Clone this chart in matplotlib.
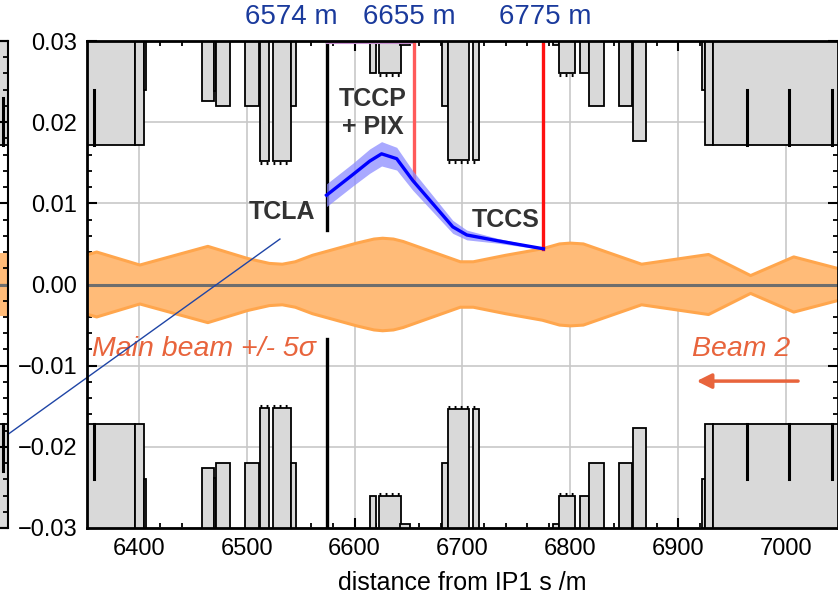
"""Collimation aperture view near IP1, beam 2, with TCLA/TCCP/TCCS markers."""
import numpy as np
import matplotlib
matplotlib.use("Agg")
import matplotlib.pyplot as plt
from matplotlib.patches import Rectangle
from matplotlib.ticker import MultipleLocator, FuncFormatter

plt.rcParams["font.family"] = ["Liberation Sans", "DejaVu Sans"]

# --- data ----------------------------------------------------------------
# beam envelope (+/- 5 sigma), half width vs s
env_s = [6345, 6361, 6401, 6464, 6501, 6521, 6533, 6545, 6561, 6602, 6618,
         6626, 6636, 6645, 6698, 6710, 6740, 6774, 6790, 6800, 6812, 6866,
         6928, 6967, 7007, 7050]
env_hw = [0.0034, 0.0040, 0.0024, 0.0047, 0.0032, 0.0026, 0.0025, 0.0028,
          0.0036, 0.0051, 0.0056, 0.0057, 0.0056, 0.0053, 0.0028, 0.0028,
          0.0036, 0.0044, 0.0050, 0.0051, 0.0050, 0.0025, 0.0037, 0.0011,
          0.0034, 0.0019]

# halo / secondary trajectory between TCCP and TCCS
traj_s = [6574, 6598, 6614, 6625, 6639, 6654, 6691, 6704, 6732, 6775]
traj_y = [0.0110, 0.0135, 0.0152, 0.0161, 0.0155, 0.0128, 0.0071, 0.0061,
          0.0054, 0.0044]
traj_err = [0.0014, 0.0014, 0.0015, 0.0015, 0.0014, 0.0012, 0.0008, 0.0006,
            0.0003, 0.0001]

# aperture elements: start, end, half aperture, comb edge
ap_start = [6340, 6396.3, 6404.6, 6458.2, 6469.9, 6471.4, 6498.3, 6512.2,
            6524.3, 6540.7, 6614.3, 6622.9, 6642.1, 6681.4, 6687.0, 6710.1,
            6783.8, 6789.0, 6808.5, 6817.4, 6844.6, 6858.0, 6922.0, 6925.1,
            6932.2]
ap_end = [6396.3, 6404.6, 6407.1, 6469.9, 6471.4, 6484.4, 6511.3, 6520.6,
          6540.7, 6545.4, 6619.6, 6642.8, 6651.4, 6687.0, 6706.4, 6715.1,
          6789.0, 6804.5, 6817.4, 6830.7, 6857.0, 6869.7, 6925.1, 6932.2,
          7060]
ap_half = [0.0172, 0.0172, 0.0240, 0.0226, 0.0238, 0.0220, 0.0220, 0.0152,
           0.0152, 0.0220, 0.0260, 0.0260, 0.0295, 0.0220, 0.0153, 0.0153,
           0.0295, 0.0260, 0.0260, 0.0220, 0.0220, 0.0177, 0.0240, 0.0172,
           0.0172]
ap_comb = [False, False, False, False, False, False, False, True,
           True, False, False, True, False, False, True, True,
           False, True, False, False, False, False, False, False,
           False]
# short boundary marks inside the wide elements
mark_s = [6358.3, 6963.7, 7002.3, 7042.8]
mark_lo, mark_hi = 0.0172, 0.0240

# collimator positions and jaw reach
tcla_s, tcla_jaw = 6574, 0.0067
tccp_s, tccp_y = 6655, 0.0128
tccs_s, tccs_y = 6775, 0.0044
top_labels = ["6574 m", "6655 m", "6775 m"]
top_label_s = [6541, 6651, 6777]

# pointer line from the neighbouring panel (start, end)
pointer_s = [6271, 6530.8]
pointer_y = [-0.0192, 0.0056]

# neighbouring panel sliver (left edge of figure)
side_ap = 0.0172
side_hw = 0.0039

ORANGE_FILL = "#ffbb78"
ORANGE_EDGE = "#ffa64d"
TEXT_RED = "#e8643c"
GRAY = "#d9d9d9"
LABEL_BLUE = "#1a3a9c"

fig = plt.figure(figsize=(8.38, 5.94), dpi=100)
ax = fig.add_axes([87 / 838, 1 - 528 / 594, 751 / 838, 487 / 594])

# beam envelope
ax.fill_between(env_s, -np.array(env_hw), env_hw, color=ORANGE_FILL,
                lw=0, zorder=1)
ax.plot(env_s, env_hw, color=ORANGE_EDGE, lw=2.2, zorder=1.1)
ax.plot(env_s, -np.array(env_hw), color=ORANGE_EDGE, lw=2.2, zorder=1.1)
ax.axhline(0, color="#6e6e6e", lw=2.2, zorder=1.5)

# aperture blocks, top and bottom
for s0, s1, a, comb in zip(ap_start, ap_end, ap_half, ap_comb):
    for sign in (1, -1):
        y0 = a if sign > 0 else -0.04
        h = 0.04 - a
        ax.add_patch(Rectangle((s0, y0), s1 - s0, h, facecolor=GRAY,
                               edgecolor="black", lw=1.3, zorder=2))
        if comb:
            ax.plot([s0, s1], [sign * (a - 0.00025)] * 2, color="black",
                    lw=2.2, ls=(0, (0.6, 1.4)), zorder=2.1)
for s in mark_s:
    ax.plot([s, s], [mark_lo, mark_hi], color="black", lw=2.2, zorder=2.2)
    ax.plot([s, s], [-mark_lo, -mark_hi], color="black", lw=2.2, zorder=2.2)

# collimator jaws
ax.plot([tcla_s, tcla_s], [tcla_jaw, 0.03], color="black", lw=2.4, zorder=3)
ax.plot([tcla_s, tcla_s], [-tcla_jaw, -0.03], color="black", lw=2.4, zorder=3)
ax.plot([tcla_s, tccp_s], [0.0298, 0.0298], color="#c78fd0", lw=1.5, zorder=3)
ax.plot([tccp_s, tccp_s], [tccp_y, 0.03], color="#ff5a5a", lw=2.4, zorder=3)
ax.plot([tccs_s, tccs_s], [tccs_y, 0.03], color="#ff1010", lw=2.4, zorder=3)

# secondary trajectory
ty = np.array(traj_y)
te = np.array(traj_err)
ax.fill_between(traj_s, ty - te, ty + te, color="#8c8cff", alpha=0.75,
                lw=0, zorder=3.5)
ax.plot(traj_s, traj_y, color="#0000ff", lw=2.4, zorder=4)

# labels
bold = dict(fontsize=18, fontweight="bold", color="#333333", zorder=5)
ax.text(6533, 0.0089, "TCLA", ha="center", va="center", **bold)
ax.text(6617, 0.0211, "TCCP\n+ PIX", ha="center", va="center",
        linespacing=1.2, **bold)
ax.text(6740, 0.0079, "TCCS", ha="center", va="center", **bold)

for s, lab in zip(top_label_s, top_labels):
    ax.text(s, 0.0330, lab, ha="center", va="center", fontsize=20,
            color=LABEL_BLUE, clip_on=False)

ax.text(6357, -0.0079, "Main beam +/- 5\u03c3", ha="left", va="center",
        fontsize=20.5, style="italic", color=TEXT_RED, zorder=5)
ax.text(7004, -0.0079, "Beam 2", ha="right", va="center", fontsize=20.5,
        style="italic", color=TEXT_RED, zorder=5)
ax.annotate("", xy=(6917, -0.0119), xytext=(7011, -0.0119),
            arrowprops=dict(arrowstyle="-|>", color=TEXT_RED, lw=2.5,
                            mutation_scale=22, shrinkA=0, shrinkB=0),
            zorder=5)

ax.plot(pointer_s, pointer_y, color="#1f45a6", lw=1.0, clip_on=False,
        zorder=6)

# axes cosmetics
ax.set_xlim(6352, 7048)
ax.set_ylim(-0.03, 0.03)
ax.xaxis.set_major_locator(MultipleLocator(100))
ax.xaxis.set_minor_locator(MultipleLocator(20))
ax.yaxis.set_major_locator(MultipleLocator(0.01))
ax.yaxis.set_minor_locator(MultipleLocator(0.002))
ax.yaxis.set_major_formatter(
    FuncFormatter(lambda v, _: f"{v:.2f}".replace("-0.00", "0.00").replace("-", "\u2212")))
ax.tick_params(which="both", direction="in", top=True, right=True,
               labelsize=17, width=1.5)
ax.tick_params(which="major", length=7, pad=7)
ax.tick_params(which="minor", length=3.5, width=1.3)
ax.grid(True, which="major", color="#c8c8c8", lw=1.2, zorder=0)
ax.set_axisbelow(True)
for sp in ax.spines.values():
    sp.set_linewidth(2.0)
    sp.set_zorder(6)
ax.set_xlabel("distance from IP1 s /m", fontsize=18, labelpad=8)

# sliver of the neighbouring panel at the left edge
ax2 = fig.add_axes([-100 / 838, 1 - 528 / 594, 108 / 838, 487 / 594])
ax2.set_xlim(0, 108)
ax2.set_ylim(-0.03, 0.03)
ax2.fill_between([0, 108], -side_hw, side_hw, color=ORANGE_FILL, lw=0)
ax2.axhline(0, color="#6e6e6e", lw=2.2)
ax2.add_patch(Rectangle((0, side_ap), 108, 0.03 - side_ap, facecolor=GRAY,
                        edgecolor="black", lw=1.3))
ax2.add_patch(Rectangle((0, -0.03), 108, 0.03 - side_ap, facecolor=GRAY,
                        edgecolor="black", lw=1.3))
ax2.plot([103, 103], [mark_lo, mark_hi - 0.001], color="black", lw=2.2)
ax2.plot([103, 103], [-mark_lo, -mark_hi + 0.001], color="black", lw=2.2)
ax2.yaxis.set_major_locator(MultipleLocator(0.01))
ax2.yaxis.set_minor_locator(MultipleLocator(0.002))
ax2.set_xticks([])
ax2.tick_params(which="both", direction="in", right=True, left=False,
                labelleft=False, width=1.5)
ax2.tick_params(which="major", length=7)
ax2.tick_params(which="minor", length=3.5, width=1.3)
for sp in ax2.spines.values():
    sp.set_linewidth(1.5)

fig.savefig("out.png", dpi=100)
